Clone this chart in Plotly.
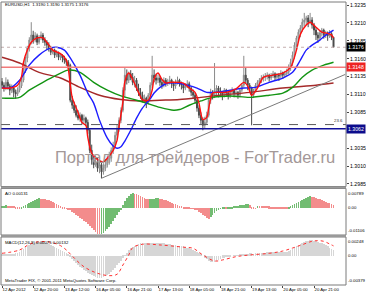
import plotly.graph_objects as go

# ---------------- data ----------------
tick_idx = [0, 16, 32, 48, 64, 80, 96, 112, 128, 144, 160]
tick_text = ["12 Apr 2012", "12 Apr 20:00", "13 Apr 12:00", "16 Apr 05:00", "16 Apr 21:00",
             "17 Apr 13:00", "18 Apr 05:00", "18 Apr 21:00", "19 Apr 13:00", "20 Apr 05:00",
             "20 Apr 21:00"]

open_ = [1.3128, 1.3123, 1.3119, 1.3127, 1.3122, 1.3116, 1.3119, 1.3113, 1.3111, 1.3116,
         1.3122, 1.3130, 1.3144, 1.3161, 1.3175, 1.3186, 1.3193, 1.3186, 1.3192, 1.3183,
         1.3189, 1.3193, 1.3186, 1.3183, 1.3179, 1.3175, 1.3169, 1.3172, 1.3165, 1.3168,
         1.3162, 1.3165, 1.3161, 1.3158, 1.3155, 1.3151, 1.3102, 1.3095, 1.3088, 1.3081,
         1.3077, 1.3081, 1.3074, 1.3077, 1.3071, 1.3060, 1.3032, 1.3019, 1.3012, 1.3016,
         1.3007, 1.3012, 1.3002, 1.3007, 1.3012, 1.3019, 1.3021, 1.3032, 1.3039, 1.3053,
         1.3063, 1.3074, 1.3088, 1.3116, 1.3137, 1.3130, 1.3139, 1.3134, 1.3127, 1.3130,
         1.3119, 1.3113, 1.3109, 1.3102, 1.3105, 1.3099, 1.3109, 1.3123, 1.3137, 1.3133,
         1.3130, 1.3133, 1.3127, 1.3123, 1.3130, 1.3126, 1.3127, 1.3130, 1.3125, 1.3122,
         1.3127, 1.3130, 1.3126, 1.3123, 1.3119, 1.3122, 1.3125, 1.3119, 1.3113, 1.3109,
         1.3102, 1.3091, 1.3081, 1.3074, 1.3067, 1.3071, 1.3081, 1.3102, 1.3113, 1.3109,
         1.3116, 1.3119, 1.3113, 1.3113, 1.3109, 1.3116, 1.3112, 1.3108, 1.3113, 1.3116,
         1.3111, 1.3113, 1.3109, 1.3116, 1.3123, 1.3137, 1.3130, 1.3123, 1.3119, 1.3109,
         1.3116, 1.3123, 1.3127, 1.3130, 1.3133, 1.3134, 1.3136, 1.3137, 1.3133, 1.3136,
         1.3139, 1.3134, 1.3137, 1.3136, 1.3140, 1.3137, 1.3139, 1.3141, 1.3147, 1.3155,
         1.3165, 1.3179, 1.3189, 1.3197, 1.3203, 1.3211, 1.3214, 1.3217, 1.3211, 1.3214,
         1.3207, 1.3200, 1.3193, 1.3189, 1.3196, 1.3200, 1.3193, 1.3196, 1.3192, 1.3195,
         1.3190]
high = [1.3133, 1.3127, 1.3134, 1.3131, 1.3125, 1.3124, 1.3121, 1.3117, 1.3120, 1.3126,
        1.3133, 1.3148, 1.3163, 1.3178, 1.3190, 1.3211, 1.3199, 1.3197, 1.3195, 1.3193,
        1.3198, 1.3196, 1.3190, 1.3186, 1.3183, 1.3178, 1.3176, 1.3174, 1.3172, 1.3170,
        1.3167, 1.3166, 1.3164, 1.3160, 1.3158, 1.3153, 1.3108, 1.3100, 1.3095, 1.3088,
        1.3085, 1.3083, 1.3082, 1.3079, 1.3075, 1.3062, 1.3040, 1.3026, 1.3025, 1.3022,
        1.3018, 1.3015, 1.3014, 1.3020, 1.3025, 1.3030, 1.3036, 1.3044, 1.3058, 1.3068,
        1.3078, 1.3092, 1.3120, 1.3147, 1.3145, 1.3142, 1.3144, 1.3140, 1.3136, 1.3133,
        1.3125, 1.3119, 1.3114, 1.3110, 1.3107, 1.3112, 1.3127, 1.3164, 1.3145, 1.3139,
        1.3138, 1.3136, 1.3131, 1.3134, 1.3133, 1.3132, 1.3136, 1.3132, 1.3128, 1.3131,
        1.3135, 1.3132, 1.3128, 1.3125, 1.3126, 1.3130, 1.3128, 1.3121, 1.3117, 1.3112,
        1.3104, 1.3095, 1.3085, 1.3078, 1.3079, 1.3086, 1.3105, 1.3118, 1.3116, 1.3154,
        1.3123, 1.3122, 1.3120, 1.3115, 1.3119, 1.3118, 1.3114, 1.3117, 1.3120, 1.3118,
        1.3116, 1.3115, 1.3119, 1.3126, 1.3164, 1.3147, 1.3133, 1.3126, 1.3121, 1.3118,
        1.3126, 1.3130, 1.3133, 1.3137, 1.3138, 1.3140, 1.3141, 1.3139, 1.3140, 1.3143,
        1.3141, 1.3140, 1.3140, 1.3144, 1.3142, 1.3143, 1.3146, 1.3152, 1.3160, 1.3170,
        1.3183, 1.3192, 1.3201, 1.3207, 1.3216, 1.3224, 1.3220, 1.3221, 1.3224, 1.3218,
        1.3210, 1.3204, 1.3197, 1.3200, 1.3203, 1.3202, 1.3199, 1.3198, 1.3200, 1.3197,
        1.3190]
low = [1.3118, 1.3114, 1.3116, 1.3117, 1.3109, 1.3112, 1.3106, 1.3104, 1.3108, 1.3113,
       1.3119, 1.3127, 1.3140, 1.3155, 1.3170, 1.3180, 1.3181, 1.3183, 1.3179, 1.3180,
       1.3186, 1.3182, 1.3178, 1.3172, 1.3170, 1.3165, 1.3166, 1.3161, 1.3162, 1.3158,
       1.3158, 1.3155, 1.3153, 1.3150, 1.3146, 1.3099, 1.3090, 1.3084, 1.3078, 1.3074,
       1.3072, 1.3068, 1.3070, 1.3066, 1.3055, 1.3028, 1.3012, 1.3007, 1.3009, 1.3002,
       1.3000, 1.2993, 1.2998, 1.3003, 1.3008, 1.3012, 1.3016, 1.3027, 1.3035, 1.3047,
       1.3058, 1.3070, 1.3085, 1.3106, 1.3124, 1.3126, 1.3130, 1.3123, 1.3120, 1.3115,
       1.3108, 1.3104, 1.3099, 1.3098, 1.3091, 1.3096, 1.3105, 1.3119, 1.3127, 1.3124,
       1.3126, 1.3122, 1.3118, 1.3120, 1.3121, 1.3122, 1.3124, 1.3119, 1.3115, 1.3118,
       1.3124, 1.3121, 1.3117, 1.3112, 1.3116, 1.3119, 1.3114, 1.3108, 1.3104, 1.3097,
       1.3086, 1.3077, 1.3069, 1.3060, 1.3062, 1.3068, 1.3078, 1.3097, 1.3103, 1.3105,
       1.3108, 1.3106, 1.3109, 1.3102, 1.3106, 1.3107, 1.3103, 1.3105, 1.3110, 1.3106,
       1.3107, 1.3104, 1.3106, 1.3113, 1.3120, 1.3125, 1.3116, 1.3112, 1.3067, 1.3105,
       1.3113, 1.3119, 1.3122, 1.3126, 1.3128, 1.3129, 1.3131, 1.3128, 1.3130, 1.3133,
       1.3130, 1.3131, 1.3129, 1.3133, 1.3132, 1.3134, 1.3136, 1.3138, 1.3143, 1.3150,
       1.3160, 1.3172, 1.3183, 1.3190, 1.3198, 1.3205, 1.3207, 1.3204, 1.3208, 1.3202,
       1.3193, 1.3186, 1.3182, 1.3186, 1.3191, 1.3188, 1.3189, 1.3185, 1.3189, 1.3186,
       1.3175]
close = [1.3123, 1.3119, 1.3127, 1.3122, 1.3116, 1.3119, 1.3113, 1.3111, 1.3116, 1.3122,
         1.3130, 1.3144, 1.3161, 1.3175, 1.3186, 1.3193, 1.3186, 1.3192, 1.3183, 1.3189,
         1.3193, 1.3186, 1.3183, 1.3179, 1.3175, 1.3169, 1.3172, 1.3165, 1.3168, 1.3162,
         1.3165, 1.3161, 1.3158, 1.3155, 1.3151, 1.3102, 1.3095, 1.3088, 1.3081, 1.3077,
         1.3081, 1.3074, 1.3077, 1.3071, 1.3060, 1.3032, 1.3019, 1.3012, 1.3016, 1.3007,
         1.3012, 1.3002, 1.3007, 1.3012, 1.3019, 1.3021, 1.3032, 1.3039, 1.3053, 1.3063,
         1.3074, 1.3088, 1.3116, 1.3137, 1.3130, 1.3139, 1.3134, 1.3127, 1.3130, 1.3119,
         1.3113, 1.3109, 1.3102, 1.3105, 1.3099, 1.3109, 1.3123, 1.3137, 1.3133, 1.3130,
         1.3133, 1.3127, 1.3123, 1.3130, 1.3126, 1.3127, 1.3130, 1.3125, 1.3122, 1.3127,
         1.3130, 1.3126, 1.3123, 1.3119, 1.3122, 1.3125, 1.3119, 1.3113, 1.3109, 1.3102,
         1.3091, 1.3081, 1.3074, 1.3067, 1.3071, 1.3081, 1.3102, 1.3113, 1.3109, 1.3116,
         1.3119, 1.3113, 1.3113, 1.3109, 1.3116, 1.3112, 1.3108, 1.3113, 1.3116, 1.3111,
         1.3113, 1.3109, 1.3116, 1.3123, 1.3137, 1.3130, 1.3123, 1.3119, 1.3109, 1.3116,
         1.3123, 1.3127, 1.3130, 1.3133, 1.3134, 1.3136, 1.3137, 1.3133, 1.3136, 1.3139,
         1.3134, 1.3137, 1.3136, 1.3140, 1.3137, 1.3139, 1.3141, 1.3147, 1.3155, 1.3165,
         1.3179, 1.3189, 1.3197, 1.3203, 1.3211, 1.3214, 1.3217, 1.3211, 1.3214, 1.3207,
         1.3200, 1.3193, 1.3189, 1.3196, 1.3200, 1.3193, 1.3196, 1.3192, 1.3195, 1.3190,
         1.3176]

# moving averages (bar index, price)
ma_red_idx = [0, 4, 8, 10, 11, 13, 15, 18, 21, 23, 26, 30, 33, 34, 36, 39, 41, 43, 44, 46, 49, 52, 54,
              57, 59, 60, 62, 63, 65, 67, 70, 72, 75, 77, 78, 80, 82, 84, 86, 90, 93, 96, 99, 101, 103,
              105, 106, 108, 110, 115, 120, 124, 126, 128, 131, 134, 139, 144, 148, 151, 153, 156,
              158, 161, 164, 166, 169, 170]
ma_red = [1.3119, 1.3119, 1.3123, 1.3135, 1.3155, 1.3172, 1.3183, 1.3189, 1.3189, 1.3183, 1.3172,
          1.3167, 1.3158, 1.3146, 1.3106, 1.3085, 1.3071, 1.3067, 1.3050, 1.3028, 1.3019, 1.3016,
          1.3021, 1.3032, 1.3046, 1.3065, 1.3100, 1.3128, 1.3140, 1.3131, 1.3113, 1.3103, 1.3102,
          1.3116, 1.3132, 1.3140, 1.3131, 1.3126, 1.3127, 1.3127, 1.3126, 1.3119, 1.3113, 1.3098,
          1.3075, 1.3078, 1.3091, 1.3112, 1.3113, 1.3113, 1.3118, 1.3127, 1.3122, 1.3109, 1.3119,
          1.3134, 1.3137, 1.3140, 1.3148, 1.3172, 1.3194, 1.3207, 1.3211, 1.3204, 1.3197, 1.3196,
          1.3193, 1.3189]
ma_blue_idx = [0, 4, 9, 14, 19, 25, 28, 32, 35, 40, 44, 47, 50, 54, 57, 59, 61, 63, 66, 69, 72, 76,
               78, 81, 85, 90, 95, 100, 105, 109, 115, 124, 130, 137, 144, 149, 153, 156, 159, 163,
               166, 170]
ma_blue = [1.3120, 1.3119, 1.3130, 1.3151, 1.3165, 1.3175, 1.3176, 1.3172, 1.3161, 1.3137, 1.3112,
           1.3098, 1.3074, 1.3049, 1.3038, 1.3035, 1.3037, 1.3045, 1.3060, 1.3077, 1.3091, 1.3104,
           1.3112, 1.3120, 1.3126, 1.3126, 1.3123, 1.3119, 1.3113, 1.3113, 1.3115, 1.3119, 1.3120,
           1.3127, 1.3133, 1.3141, 1.3158, 1.3172, 1.3179, 1.3186, 1.3193, 1.3200]
ma_green_idx = [0, 9, 14, 21, 28, 34, 40, 47, 54, 61, 69, 74, 81, 88, 91, 96, 102, 108, 117, 127,
                137, 144, 149, 154, 159, 165, 170]
ma_green = [1.3105, 1.3106, 1.3116, 1.3127, 1.3137, 1.3144, 1.3141, 1.3127, 1.3116, 1.3108, 1.3102,
            1.3098, 1.3092, 1.3088, 1.3089, 1.3095, 1.3101, 1.3106, 1.3108, 1.3106, 1.3109, 1.3112,
            1.3120, 1.3134, 1.3144, 1.3151, 1.3155]
ma_brown_idx = [0, 9, 19, 30, 40, 50, 61, 71, 81, 91, 102, 112, 127, 144, 161, 170]
ma_brown = [1.3162, 1.3154, 1.3141, 1.3133, 1.3120, 1.3109, 1.3103, 1.3101, 1.3102, 1.3103, 1.3106,
            1.3109, 1.3113, 1.3119, 1.3123, 1.3126]

trend_idx = [51, 176]
trend_price = [1.2993, 1.3138]

bid_price = 1.3176
red_level = 1.3148
blue_level = 1.3062
fib_level = 1.3068

price_ticks = [1.2985, 1.3010, 1.3035, 1.3085, 1.3110, 1.3135, 1.3160, 1.3185, 1.3210, 1.3235]

ao = [0.00082, 0.00102, 0.00122, 0.00114, 0.00102, 0.00090, 0.00082, 0.00073, 0.00061, 0.00053,
      0.00073, 0.00094, 0.00122, 0.00163, 0.00204, 0.00245, 0.00285, 0.00326, 0.00367, 0.00408,
      0.00399, 0.00387, 0.00367, 0.00346, 0.00326, 0.00297, 0.00265, 0.00224, 0.00183, 0.00143,
      0.00102, 0.00061, 0.00033, 0.00008, -0.00041, -0.00082, -0.00143, -0.00204, -0.00265, -0.00326,
      -0.00387, -0.00448, -0.00509, -0.00571, -0.00632, -0.00713, -0.00795, -0.00876, -0.00958, -0.01039,
      -0.01060, -0.01039, -0.00998, -0.00937, -0.00856, -0.00754, -0.00652, -0.00530, -0.00408, -0.00285,
      -0.00163, -0.00041, 0.00122, 0.00285, 0.00408, 0.00509, 0.00571, 0.00611, 0.00591, 0.00571,
      0.00538, 0.00505, 0.00469, 0.00432, 0.00399, 0.00375, 0.00383, 0.00391, 0.00399, 0.00408,
      0.00412, 0.00399, 0.00379, 0.00355, 0.00326, 0.00293, 0.00261, 0.00228, 0.00196, 0.00163,
      0.00134, 0.00106, 0.00082, 0.00065, 0.00049, 0.00037, 0.00024, 0.00012, 0.00004, -0.00033,
      -0.00082, -0.00143, -0.00204, -0.00265, -0.00326, -0.00387, -0.00428, -0.00367, -0.00285, -0.00204,
      -0.00122, -0.00061, 0.00012, 0.00033, 0.00041, 0.00037, 0.00049, 0.00061, 0.00073, 0.00082,
      0.00094, 0.00106, 0.00122, 0.00139, 0.00155, 0.00175, 0.00187, 0.00143, 0.00061, 0.00020,
      0.00008, 0.00102, 0.00098, 0.00094, 0.00090, 0.00086, 0.00082, 0.00077, 0.00073, 0.00069,
      0.00065, 0.00061, 0.00059, 0.00057, 0.00055, 0.00053, 0.00051, 0.00065, 0.00094, 0.00122,
      0.00163, 0.00204, 0.00245, 0.00285, 0.00326, 0.00367, 0.00408, 0.00448, 0.00489, 0.00481,
      0.00460, 0.00432, 0.00399, 0.00367, 0.00334, 0.00302, 0.00269, 0.00236, 0.00204, 0.00171,
      0.00131]

macd = [0.00020, 0.00020, 0.00024, 0.00024, 0.00024, 0.00026, 0.00029, 0.00033, 0.00039, 0.00052,
        0.00072, 0.00091, 0.00111, 0.00131, 0.00144, 0.00157, 0.00170, 0.00176, 0.00183, 0.00183,
        0.00183, 0.00180, 0.00175, 0.00167, 0.00157, 0.00144, 0.00131, 0.00118, 0.00104, 0.00091,
        0.00078, 0.00065, 0.00052, 0.00037, 0.00016, -0.00013, -0.00039, -0.00065, -0.00091, -0.00118,
        -0.00144, -0.00163, -0.00183, -0.00202, -0.00222, -0.00235, -0.00248, -0.00261, -0.00274, -0.00281,
        -0.00287, -0.00281, -0.00274, -0.00261, -0.00248, -0.00229, -0.00209, -0.00183, -0.00157, -0.00124,
        -0.00091, -0.00059, -0.00026, 0.00007, 0.00039, 0.00072, 0.00098, 0.00118, 0.00137, 0.00150,
        0.00159, 0.00167, 0.00170, 0.00170, 0.00170, 0.00167, 0.00167, 0.00170, 0.00174, 0.00176,
        0.00175, 0.00172, 0.00170, 0.00166, 0.00162, 0.00157, 0.00153, 0.00149, 0.00145, 0.00141,
        0.00137, 0.00133, 0.00131, 0.00124, 0.00118, 0.00108, 0.00098, 0.00086, 0.00073, 0.00060,
        0.00047, 0.00033, 0.00017, 0.00000, -0.00020, -0.00039, -0.00059, -0.00072, -0.00078, -0.00076,
        -0.00065, -0.00050, -0.00037, -0.00026, -0.00020, -0.00013, -0.00008, -0.00004, 0.00000, 0.00004,
        0.00008, 0.00010, 0.00013, 0.00017, 0.00021, 0.00026, 0.00031, 0.00037, 0.00034, 0.00031,
        0.00033, 0.00037, 0.00039, 0.00042, 0.00043, 0.00044, 0.00046, 0.00047, 0.00047, 0.00048,
        0.00048, 0.00050, 0.00050, 0.00051, 0.00052, 0.00054, 0.00056, 0.00060, 0.00072, 0.00091,
        0.00111, 0.00131, 0.00150, 0.00163, 0.00176, 0.00189, 0.00196, 0.00202, 0.00209, 0.00209,
        0.00202, 0.00196, 0.00187, 0.00176, 0.00166, 0.00154, 0.00141, 0.00125, 0.00108, 0.00091,
        0.00075]

signal_idx = [0, 9, 14, 19, 25, 30, 33, 36, 42, 49, 55, 59, 62, 65, 67, 72, 81, 93, 98, 103, 109,
              113, 120, 127, 137, 144, 149, 154, 159, 162, 165, 168, 170]
signal = [0.00035, 0.00078, 0.00153, 0.00187, 0.00179, 0.00135, 0.00078, 0.00000, -0.00140, -0.00226,
          -0.00257, -0.00239, -0.00118, 0.00013, 0.00108, 0.00153, 0.00144, 0.00115, 0.00100, 0.00013,
          -0.00065, -0.00052, -0.00009, 0.00013, 0.00035, 0.00065, 0.00104, 0.00148, 0.00192, 0.00200,
          0.00192, 0.00157, 0.00132]

ao_range = [-0.01106, 0.00789]
macd_range = [-0.00379, 0.00248]

# ---------------- figure ----------------
W, H = 366, 293
ML, MR, MT, MB = 1, 20, 2, 8
PH = H - MT - MB


def yp(Y):
    return (H - MB - Y) / PH


def xp(X):
    return (X - ML) / (W - ML - MR)


bars = list(range(len(close)))
FONT = "Liberation Sans"

fig = go.Figure()

fig.add_trace(go.Candlestick(
    x=bars, open=open_, high=high, low=low, close=close,
    xaxis="x2", yaxis="y", whiskerwidth=0,
    increasing=dict(line=dict(color="#8a8a8a", width=1), fillcolor="#d8d8d8"),
    decreasing=dict(line=dict(color="#4a4a4a", width=1), fillcolor="#4a4a4a"),
    hoverinfo="skip", showlegend=False))

for xs, ys, col in [(ma_brown_idx, ma_brown, "#a52a2a"), (ma_green_idx, ma_green, "#139413"),
                    (ma_blue_idx, ma_blue, "#1c1cff"), (ma_red_idx, ma_red, "#ff1010")]:
    fig.add_trace(go.Scatter(x=xs, y=ys, mode="lines", xaxis="x2", yaxis="y",
                             line=dict(color=col, width=1.4, shape="spline", smoothing=0.8),
                             hoverinfo="skip", showlegend=False))

fig.add_trace(go.Scatter(x=trend_idx, y=trend_price, mode="lines", xaxis="x2", yaxis="y",
                         line=dict(color="#7a7a7a", width=1), hoverinfo="skip", showlegend=False))

ao_colors = ["#72bc72" if (i == 0 or ao[i] > ao[i - 1]) else "#f38c8c" for i in range(len(ao))]
fig.add_trace(go.Bar(x=bars, y=ao, xaxis="x3", yaxis="y2", width=0.36,
                     marker=dict(color=ao_colors, line=dict(width=0)),
                     hoverinfo="skip", showlegend=False))

fig.add_trace(go.Bar(x=bars, y=macd, xaxis="x", yaxis="y3", width=0.36,
                     marker=dict(color="#d6d6d6", line=dict(width=0)),
                     hoverinfo="skip", showlegend=False))
fig.add_trace(go.Scatter(x=signal_idx, y=signal, mode="lines", xaxis="x", yaxis="y3",
                         line=dict(color="#ff3030", width=1, dash="dot", shape="spline"),
                         hoverinfo="skip", showlegend=False))

xr = [-0.513, 176.4]
main_dom = [yp(186.5), 1]
ao_dom = [yp(235), yp(188.5)]
macd_dom = [0, yp(237)]

fig.update_layout(
    width=W, height=H, margin=dict(l=ML, r=MR, t=MT, b=MB),
    paper_bgcolor="white", plot_bgcolor="white", bargap=0,
    font=dict(family=FONT, size=5, color="black"),
    xaxis=dict(domain=[0, 1], anchor="y3", range=xr, tickmode="array", tickvals=tick_idx,
               ticktext=tick_text, ticks="outside", ticklen=2, tickcolor="#444", tickangle=0,
               ticklabelposition="outside right", tickfont=dict(size=4.3, family=FONT),
               showgrid=False, zeroline=False, showline=False, rangeslider=dict(visible=False)),
    xaxis2=dict(domain=[0, 1], anchor="y", range=xr, matches="x", showticklabels=False,
                ticks="", showgrid=False, zeroline=False, rangeslider=dict(visible=False)),
    xaxis3=dict(domain=[0, 1], anchor="y2", range=xr, matches="x", showticklabels=False,
                ticks="", showgrid=False, zeroline=False),
    yaxis=dict(domain=main_dom, anchor="x2", side="right", range=[1.29815, 1.32392],
               tickmode="array", tickvals=price_ticks, ticktext=[f"{v:.4f}" for v in price_ticks],
               ticks="outside", ticklen=2, tickcolor="#444", tickfont=dict(size=5.2, family=FONT),
               showgrid=False, zeroline=False),
    yaxis2=dict(domain=ao_dom, anchor="x3", side="right", range=ao_range, showticklabels=False,
                ticks="", showgrid=False, zeroline=False),
    yaxis3=dict(domain=macd_dom, anchor="x", side="right", range=macd_range, showticklabels=False,
                ticks="", showgrid=False, zeroline=False),
)

shapes = []
# horizontal levels in the price window
shapes.append(dict(type="line", xref="paper", yref="y", x0=0, x1=1, y0=bid_price, y1=bid_price,
                   line=dict(color="#c4aeae", width=1, dash="dot")))
shapes.append(dict(type="line", xref="paper", yref="y", x0=0, x1=1, y0=red_level, y1=red_level,
                   line=dict(color="#f27a7a", width=1.5)))
shapes.append(dict(type="line", xref="paper", yref="y", x0=0, x1=1, y0=fib_level, y1=fib_level,
                   line=dict(color="#5a5a5a", width=1, dash="dash")))
shapes.append(dict(type="line", xref="paper", yref="y", x0=0, x1=1, y0=blue_level, y1=blue_level,
                   line=dict(color="#10109a", width=1.5)))
# panel frames and separators
for d in (main_dom, ao_dom, macd_dom):
    shapes.append(dict(type="rect", xref="paper", yref="paper", x0=0, x1=1, y0=d[0], y1=d[1],
                       line=dict(color="#7a7a7a", width=1), fillcolor="rgba(0,0,0,0)"))
shapes.append(dict(type="rect", xref="paper", yref="paper", x0=0, x1=1, y0=ao_dom[1], y1=main_dom[0],
                   line=dict(width=0), fillcolor="#9a9a9a"))
shapes.append(dict(type="rect", xref="paper", yref="paper", x0=0, x1=1, y0=macd_dom[1], y1=ao_dom[0],
                   line=dict(width=0), fillcolor="#9a9a9a"))
fig.update_layout(shapes=shapes)

ann = []
small = dict(family=FONT, size=4.3, color="black")
ann.append(dict(text="EURUSD,H1  1.3190 1.3190 1.3175 1.3176", xref="paper", yref="paper",
                x=xp(3), y=yp(5), xanchor="left", yanchor="middle", showarrow=False, font=small))
ann.append(dict(text="AO 0.00131", xref="paper", yref="paper", x=xp(3), y=yp(194),
                xanchor="left", yanchor="middle", showarrow=False, font=small))
ann.append(dict(text="MACD(12,26,9) 0.00075 0.00132", xref="paper", yref="paper", x=xp(3), y=yp(242),
                xanchor="left", yanchor="middle", showarrow=False, font=small))
ann.append(dict(text="MetaTrader FIX, © 2001-2011 MetaQuotes Software Corp.", xref="paper",
                yref="paper", x=xp(3), y=yp(280), xanchor="left", yanchor="middle",
                showarrow=False, font=small))
ann.append(dict(text="23.6", xref="paper", yref="y", x=xp(345), y=fib_level, xanchor="right",
                yanchor="bottom", showarrow=False, font=dict(family=FONT, size=4.3, color="#333")))
ann.append(dict(text="Портал для трейдеров - ForTrader.ru", xref="paper", yref="paper",
                x=xp(195), y=yp(157), xanchor="center", yanchor="middle", showarrow=False,
                font=dict(family=FONT, size=16.5, color="#a39898")))
# price boxes on the right scale
for val, bg in [(bid_price, "#000000"), (red_level, "#ee2222"), (blue_level, "#0c0c8c")]:
    ann.append(dict(text=f"{val:.4f}", xref="paper", yref="y", x=1.0, y=val, xanchor="left",
                    yanchor="middle", showarrow=False, bgcolor=bg, borderpad=1,
                    font=dict(family=FONT, size=5.2, color="white")))
# indicator scale labels
for val, anc, ax in [(ao_range[1], "top", "y2"), (0, "middle", "y2"), (ao_range[0], "bottom", "y2"),
                     (macd_range[1], "top", "y3"), (0, "middle", "y3"), (macd_range[0], "bottom", "y3")]:
    txt = "0.00" if val == 0 else f"{val:.5f}"
    ann.append(dict(text=txt, xref="paper", yref=ax, x=1.0, y=val, xanchor="left", yanchor=anc,
                    xshift=0, showarrow=False, font=dict(family=FONT, size=4.3, color="black")))
fig.update_layout(annotations=ann)

fig.write_html("out.html")
